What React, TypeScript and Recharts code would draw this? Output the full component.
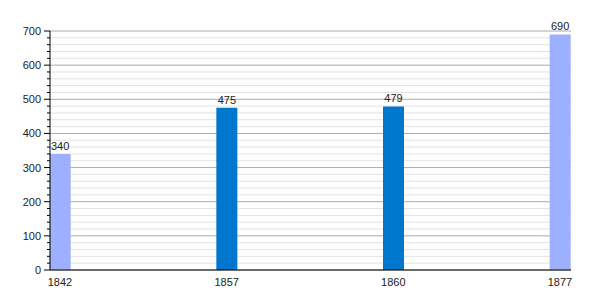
import { BarChart, Bar, XAxis, YAxis, CartesianGrid, Cell, LabelList } from "recharts";

const years = ["1842", "1857", "1860", "1877"];
const population = [340, 475, 479, 690];
const barColors = ["#9db0ff", "#0077cc", "#0077cc", "#9db0ff"];
const allTicks = Array.from({ length: 36 }, (_, i) => i * 20);

const data = years.map((year, i) => ({ idx: i, year, value: population[i] }));

const YTick = (props: any) => {
  const { x, y, payload } = props;
  const axisX = x + 8;
  const isMajor = payload.value % 100 === 0;
  return (
    <g>
      <line x1={axisX - (isMajor ? 6 : 3)} x2={axisX} y1={y} y2={y} stroke="#000" />
      {isMajor && (
        <text x={axisX - 9} y={y} dy={4} textAnchor="end" fontSize={11} fill="#222">
          {payload.value}
        </text>
      )}
    </g>
  );
};

// major lines every 100 are darker than the minor ones every 20
const GridLine = (props: any) => {
  const { x1, x2, y1, y2, index } = props;
  return <line x1={x1} x2={x2} y1={y1} y2={y2} stroke={index % 5 === 0 ? "#aaaaaa" : "#e2e2e2"} />;
};

const App = () => {
  return (
    <div style={{ position: "absolute", left: 0, top: 0, fontFamily: "'Liberation Sans', Arial, sans-serif" }}>
      <BarChart width={600} height={300} data={data} margin={{ top: 31, right: 29, bottom: 12, left: 0 }}>
        <CartesianGrid vertical={false} horizontal={(p: any) => <GridLine key={p.key ?? p.index} {...p} />} />
        <XAxis
          dataKey="idx"
          type="number"
          domain={[0, 3]}
          ticks={[0, 1, 2, 3]}
          tickFormatter={(i: number) => years[i]}
          padding={{ left: 10, right: 11 }}
          axisLine={{ stroke: "#000" }}
          tickLine={false}
          tick={{ fontSize: 11, fill: "#222" }}
          tickMargin={2}
          height={18}
        />
        <YAxis
          domain={[0, 700]}
          ticks={allTicks}
          interval={0}
          width={50}
          axisLine={{ stroke: "#000" }}
          tickLine={false}
          tickSize={6}
          tickMargin={2}
          tick={<YTick />}
        />
        <Bar dataKey="value" barSize={21} isAnimationActive={false}>
          {data.map((_, i) => (
            <Cell key={`cell-${i}`} fill={barColors[i]} />
          ))}
          <LabelList dataKey="value" position="top" offset={4} fontSize={11} fill="#222" />
        </Bar>
      </BarChart>
    </div>
  );
};

export default App;
